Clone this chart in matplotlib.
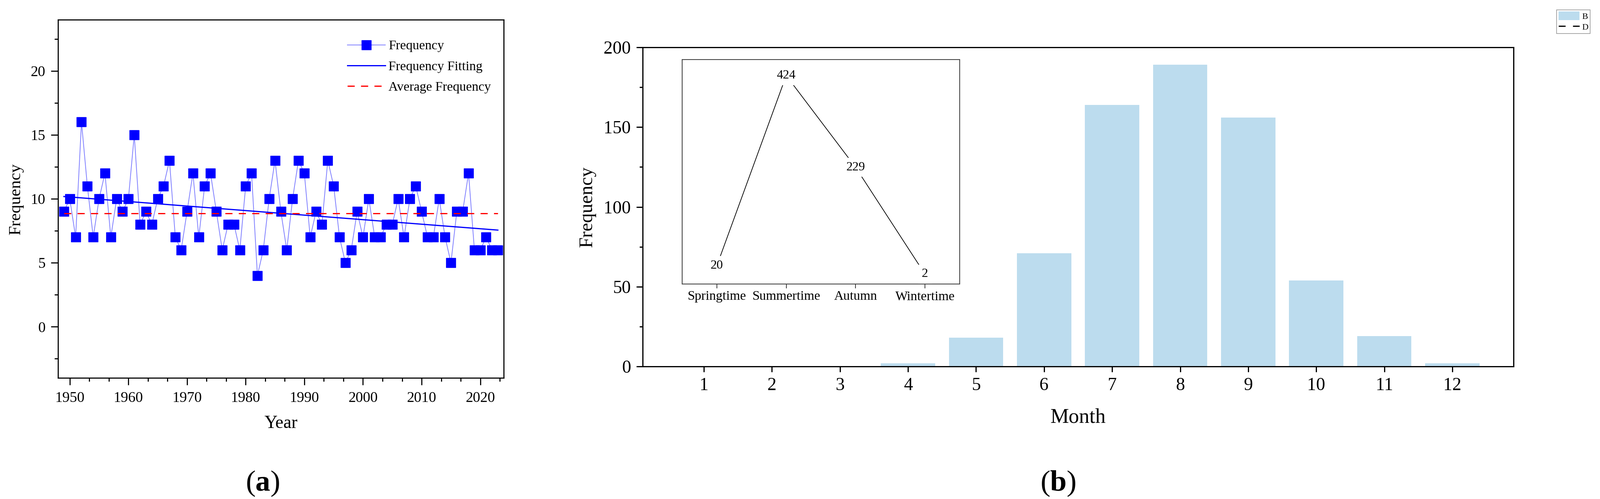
import numpy as np
import matplotlib
matplotlib.use('Agg')
import matplotlib.pyplot as plt
from matplotlib.lines import Line2D
from matplotlib.ticker import MultipleLocator, AutoMinorLocator

plt.rcParams['font.family'] = ['Liberation Serif', 'DejaVu Serif']
plt.rcParams['mathtext.fontset'] = 'custom'
plt.rcParams['mathtext.rm'] = 'Liberation Serif'
plt.rcParams['mathtext.bf'] = 'Liberation Serif:bold'
plt.rcParams['lines.scale_dashes'] = False

# ---------------- data ----------------
years = list(range(1949, 2024))
freq = [9, 10, 7, 16, 11, 7, 10, 12, 7, 10,
        9, 10, 15, 8, 9, 8, 10, 11, 13, 7,
        6, 9, 12, 7, 11, 12, 9, 6, 8, 8,
        6, 11, 12, 4, 6, 10, 13, 9, 6, 10,
        13, 12, 7, 9, 8, 13, 11, 7, 5, 6,
        9, 7, 10, 7, 7, 8, 8, 10, 7, 10,
        11, 9, 7, 7, 10, 7, 5, 9, 9, 12,
        6, 6, 7, 6, 6]
months = list(range(1, 13))
month_counts = [0, 0, 0, 2, 18, 71, 164, 189, 156, 54, 19, 2]
seasons = ['Springtime', 'Summertime', 'Autumn', 'Wintertime']
season_counts = [20, 424, 229, 2]
legend_a = ['Frequency', 'Frequency Fitting', 'Average Frequency']
legend_b = ['B', 'D']

W, H = 4053, 1265
fig = plt.figure(figsize=(W / 100, H / 100), dpi=100)


def rect(x0, y0, x1, y1):
    return [x0 / W, 1 - y1 / H, (x1 - x0) / W, (y1 - y0) / H]


# ---------------- panel (a) ----------------
ax1 = fig.add_axes(rect(147, 50, 1276, 958))
ax1.plot(years, freq, color='#8080ff', lw=1.4, marker='s', ms=17,
         mfc='#0000ff', mec='#0000ff', label=legend_a[0], zorder=3)
coef = np.polyfit(years, freq, 1)
ax1.plot(years, np.polyval(coef, years), color='#0000ff', lw=2.2,
         label=legend_a[1], zorder=4)
mean = float(np.mean(freq))
ax1.plot(years, [mean] * len(years), color='#ff0000', lw=2.2,
         ls=(0, (13, 11.5)), label=legend_a[2], zorder=5)
ax1.set_xlim(1948, 2024)
ax1.set_ylim(-4, 24)
ax1.xaxis.set_major_locator(MultipleLocator(10))
ax1.xaxis.set_minor_locator(AutoMinorLocator(3))
ax1.yaxis.set_major_locator(MultipleLocator(5))
ax1.yaxis.set_minor_locator(AutoMinorLocator(2))
for s in ax1.spines.values():
    s.set_linewidth(2.0)
ax1.tick_params(which='both', direction='out', width=2.0, top=False, right=False)
ax1.tick_params(which='major', length=13, labelsize=27)
ax1.tick_params(which='minor', length=6.5)
ax1.tick_params(axis='x', which='major', pad=11.5)
ax1.tick_params(axis='y', which='major', pad=10)
ax1.set_xlabel('Year', fontsize=33)
ax1.xaxis.set_label_coords(0.5, -0.1046)
ax1.set_ylabel('Frequency', fontsize=31)
ax1.yaxis.set_label_coords(-0.0771, 0.5)
ax1.legend(loc='upper left', bbox_to_anchor=((880 - 147) / 1129, (958 - 102) / 908),
           frameon=False, fontsize=24, handlelength=2.87, handletextpad=0.25,
           labelspacing=0.65, borderpad=0, borderaxespad=0, numpoints=1)

# ---------------- panel (b) ----------------
ax2 = fig.add_axes(rect(1628, 120, 3834, 929))
bars = ax2.bar(months, month_counts, width=0.8, color='#bcdcee', label=legend_b[0])
ax2.set_xlim(0.1, 12.9)
ax2.set_ylim(0, 200)
ax2.set_xticks(months)
ax2.yaxis.set_major_locator(MultipleLocator(50))
ax2.yaxis.set_minor_locator(MultipleLocator(25))
for s in ax2.spines.values():
    s.set_linewidth(2.2)
ax2.tick_params(which='both', direction='out', width=2.2, top=False, right=False)
ax2.tick_params(axis='y', which='major', length=11.5, labelsize=33, pad=10)
ax2.tick_params(axis='y', which='minor', length=5.8)
ax2.tick_params(axis='x', which='major', length=10, labelsize=33, pad=10)
ax2.set_xlabel('Month', fontsize=38)
ax2.xaxis.set_label_coords(0.5, -0.1300)
ax2.set_ylabel('Frequency', fontsize=35)
ax2.yaxis.set_label_coords(-0.0535, 0.5)

# inset
ax3 = fig.add_axes(rect(1728, 151, 2431, 720))
xs = list(range(len(seasons)))
ax3.plot(xs, season_counts, color='black', lw=1.3, zorder=2)
for x, v in zip(xs, season_counts):
    ax3.text(x, v, str(v), ha='center', va='center', fontsize=23, zorder=3,
             bbox=dict(facecolor='white', edgecolor='none', pad=7))
ax3.set_xlim(-0.5, 3.5)
ax3.set_ylim(-19, 458)
ax3.set_xticks(xs)
ax3.set_xticklabels(seasons)
ax3.set_yticks([])
for s in ax3.spines.values():
    s.set_linewidth(1.5)
    s.set_color('#404040')
ax3.tick_params(axis='x', direction='out', length=8, width=1.5, labelsize=24, pad=4,
                color='#404040')

# figure legend for panel (b)
handles = [bars, Line2D([], [], color='black', lw=2.2, ls=(0, (12.5, 13.5)))]
leg = fig.legend(handles, legend_b, loc='upper right',
                 bbox_to_anchor=(4028 / W, 1 - 25 / H), fontsize=16,
                 frameon=True, fancybox=False, edgecolor='#999999', framealpha=1,
                 handlelength=2.4, handleheight=1.1, handletextpad=0.3,
                 borderpad=0.2, labelspacing=0.2, borderaxespad=0)
leg.get_frame().set_linewidth(1.2)

# panel labels
fig.text(665 / W, 1 - 1226 / H, r'($\mathbf{a}$)', ha='center', va='center', fontsize=54)
fig.text(2680 / W, 1 - 1226 / H, r'($\mathbf{b}$)', ha='center', va='center', fontsize=54)

fig.savefig('out.png', dpi=100)
